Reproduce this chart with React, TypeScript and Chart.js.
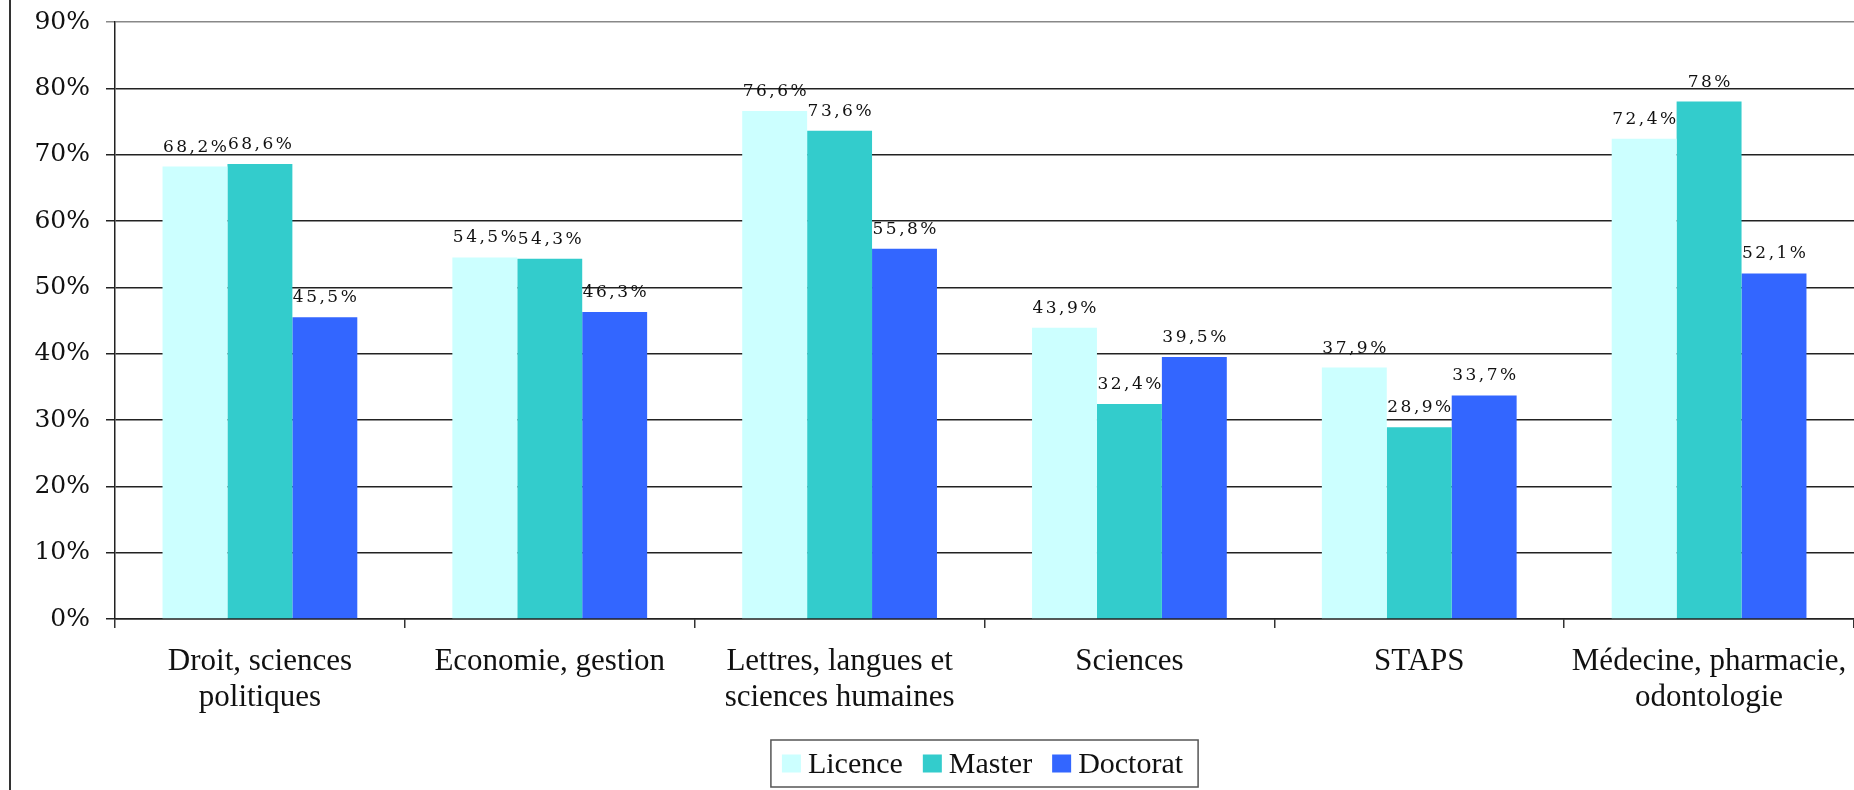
import React, { useEffect, useRef } from "react";
import { Chart, registerables } from "chart.js";

Chart.register(...registerables);

const categories: string[][] = [
  ["Droit, sciences", "politiques"],
  ["Economie, gestion"],
  ["Lettres, langues et", "sciences humaines"],
  ["Sciences"],
  ["STAPS"],
  ["Médecine, pharmacie,", "odontologie"],
];
const seriesNames = ["Licence", "Master", "Doctorat"];
const licence = [68.2, 54.5, 76.6, 43.9, 37.9, 72.4];
const master = [68.6, 54.3, 73.6, 32.4, 28.9, 78];
const doctorat = [45.5, 46.3, 55.8, 39.5, 33.7, 52.1];
const seriesColors = ["#CCFFFF", "#33CCCC", "#3366FF"];
const yMax = 90;
const yStep = 10;

const SERIF = '"Liberation Serif", "Times New Roman", serif';
const NUMSERIF = '"DejaVu Serif", serif';

const fmt = (v: number) => String(v).replace(".", ",") + "%";

const decorPlugin = {
  id: "decor",
  afterDatasetsDraw(chart: any) {
    const ctx = chart.ctx as CanvasRenderingContext2D;
    ctx.save();
    ctx.font = `17px ${NUMSERIF}`;
    (ctx as any).letterSpacing = "2.5px";
    ctx.fillStyle = "#111";
    ctx.textAlign = "center";
    ctx.textBaseline = "alphabetic";
    chart.data.datasets.forEach((ds: any, i: number) => {
      const meta = chart.getDatasetMeta(i);
      meta.data.forEach((bar: any, j: number) => {
        const txt = fmt(ds.data[j]);
        ctx.fillText(txt, bar.x + 1.25, bar.y - 15);
      });
    });
    ctx.restore();
  },
  afterDraw(chart: any) {
    const ctx = chart.ctx as CanvasRenderingContext2D;
    const { chartArea, height } = chart;
    ctx.save();
    // left frame line
    ctx.strokeStyle = "#333";
    ctx.lineWidth = 2;
    ctx.beginPath();
    ctx.moveTo(10, 0);
    ctx.lineTo(10, height);
    ctx.stroke();

    // legend
    ctx.font = `30px ${SERIF}`;
    const sw = 19;
    const gapSwText = 7;
    const gapItems = 17;
    const padX = 13;
    const items = chart.data.datasets.map((ds: any) => ({
      label: ds.label,
      color: ds.backgroundColor,
      w: ctx.measureText(ds.label).width,
    }));
    let total = padX * 2 + 6;
    items.forEach((it: any, k: number) => {
      total += sw + gapSwText + it.w + (k < items.length - 1 ? gapItems : 0);
    });
    const cx = (chartArea.left + chartArea.right) / 2;
    const boxLeft = cx - total / 2;
    const boxTop = height - 50;
    const boxH = 47;
    ctx.fillStyle = "#fff";
    ctx.fillRect(boxLeft, boxTop, total, boxH);
    ctx.strokeStyle = "#555";
    ctx.lineWidth = 1.5;
    ctx.strokeRect(boxLeft, boxTop, total, boxH);
    let x = boxLeft + padX - 2;
    const midY = boxTop + boxH / 2;
    ctx.textBaseline = "middle";
    ctx.textAlign = "left";
    items.forEach((it: any) => {
      ctx.fillStyle = it.color;
      ctx.fillRect(x, midY - 9, sw, 18);
      x += sw + gapSwText;
      ctx.fillStyle = "#111";
      ctx.fillText(it.label, x, midY + 2);
      x += it.w + gapItems + 3;
    });
    ctx.restore();
  },
};

export default function App() {
  const ref = useRef<HTMLCanvasElement | null>(null);

  useEffect(() => {
    if (!ref.current) return;
    const chart = new Chart(ref.current, {
      type: "bar",
      data: {
        labels: categories as any,
        datasets: [licence, master, doctorat].map((d, i) => ({
          label: seriesNames[i],
          data: d,
          backgroundColor: seriesColors[i],
          borderWidth: 0,
          barPercentage: 1,
          categoryPercentage: 0.672,
        })),
      },
      options: {
        animation: false,
        responsive: true,
        maintainAspectRatio: false,
        layout: { padding: { top: 22, left: 0, right: 0, bottom: 0 } },
        plugins: {
          legend: { display: false },
          tooltip: { enabled: false },
        },
        scales: {
          x: {
            grid: {
              drawOnChartArea: false,
              drawTicks: true,
              tickLength: 9,
              color: "#333",
              lineWidth: 1.5,
              offset: true,
            },
            border: { display: true, color: "#222", width: 1.5 },
            ticks: {
              color: "#111",
              font: { family: SERIF, size: 31, lineHeight: 1.16 },
              padding: 16,
              maxRotation: 0,
              autoSkip: false,
            },
            afterFit: (scale: any) => {
              scale.height = 171;
              scale.paddingLeft = 0;
              scale.paddingRight = 0;
            },
          },
          y: {
            min: 0,
            max: yMax,
            grid: {
              color: (c: any) => (c.tick && c.tick.value === yMax ? "#888" : "#222"),
              lineWidth: 1.5,
              tickLength: 9,
              drawTicks: true,
            },
            border: { display: true, color: "#222", width: 1.5 },
            ticks: {
              stepSize: yStep,
              color: "#111",
              font: { family: NUMSERIF, size: 25 },
              padding: 16,
              callback: (v: any) => v + "%",
            },
            afterFit: (scale: any) => {
              scale.width = 115;
              scale.paddingTop = 0;
              scale.paddingBottom = 0;
            },
          },
        },
      },
      plugins: [decorPlugin],
    });
    return () => chart.destroy();
  }, []);

  return (
    <div
      style={{
        position: "fixed",
        left: 0,
        top: 0,
        width: "1854px",
        height: "790px",
        background: "#fff",
        overflow: "hidden",
      }}
    >
      <canvas ref={ref} />
    </div>
  );
}
